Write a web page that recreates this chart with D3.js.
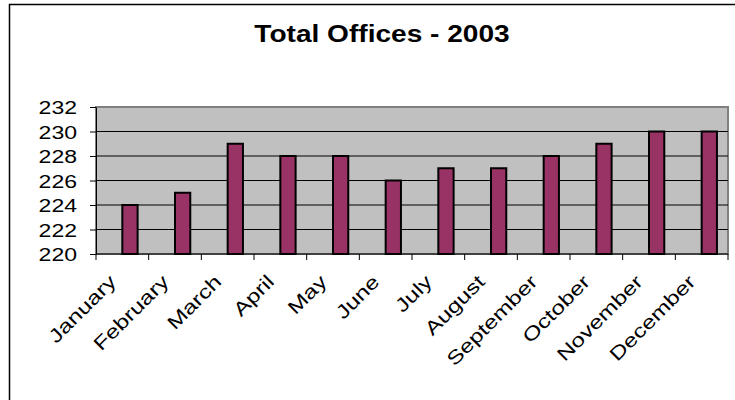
<!DOCTYPE html>
<html>
<head>
<meta charset="utf-8">
<script src="https://cdn.jsdelivr.net/npm/d3@7"></script>
<style>
    body { margin: 0; background: #fff; }
    text { font-family: "Liberation Sans", Arial, sans-serif; fill: #000; }
</style>
</head>
<body>
<div id="chart"></div>
<script>
// data
var months = ["January", "February", "March", "April", "May", "June",
              "July", "August", "September", "October", "November", "December"];
var offices = [224, 225, 229, 228, 228, 226, 227, 227, 228, 229, 230, 230];
var yTicks = [220, 222, 224, 226, 228, 230, 232];

var width = 735, height = 400;
var plot = {left: 96, right: 728, top: 107, bottom: 254};
var stretch = 1.28; // the original text looks wide, so stretch it sideways

var svg = d3.select("#chart").append("svg")
    .attr("width", width)
    .attr("height", height);

// chart frame (runs off the right and bottom edges)
svg.append("rect")
    .attr("x", 9.5).attr("y", 4.5)
    .attr("width", 800).attr("height", 500)
    .attr("fill", "#fff")
    .attr("stroke", "#000")
    .attr("stroke-width", 1.5);

// title
svg.append("text")
    .attr("transform", "translate(382,42) scale(1.17,1)")
    .attr("text-anchor", "middle")
    .attr("font-size", "24px")
    .attr("font-weight", "bold")
    .text("Total Offices - 2003");

var x = d3.scaleBand().domain(months).range([plot.left, plot.right]);
var y = d3.scaleLinear().domain([220, 232]).range([plot.bottom, plot.top]);

// grey plot area
svg.append("rect")
    .attr("x", plot.left).attr("y", plot.top)
    .attr("width", plot.right - plot.left)
    .attr("height", plot.bottom - plot.top)
    .attr("fill", "#c0c0c0")
    .attr("stroke", "#808080")
    .attr("stroke-width", 2);

// gridlines
svg.append("g").selectAll("line")
    .data(yTicks.slice(1, -1))
    .enter().append("line")
    .attr("x1", plot.left).attr("x2", plot.right)
    .attr("y1", function(d) { return y(d); })
    .attr("y2", function(d) { return y(d); })
    .attr("stroke", "#000")
    .attr("stroke-width", 1);

// bars sit just right of the category middle
var barW = x.bandwidth() * 0.29;
svg.append("g").selectAll("rect")
    .data(offices)
    .enter().append("rect")
    .attr("x", function(d, i) { return x(months[i]) + x.bandwidth() / 2; })
    .attr("y", function(d) { return y(d); })
    .attr("width", barW)
    .attr("height", function(d) { return y(220) - y(d); })
    .attr("fill", "#993366")
    .attr("stroke", "#000")
    .attr("stroke-width", 2);

// y axis
var yAxis = svg.append("g")
    .attr("transform", "translate(" + plot.left + ",0)")
    .call(d3.axisLeft(y).tickValues(yTicks).tickSize(6).tickSizeOuter(0));
yAxis.select(".domain").attr("stroke", "#000");
yAxis.selectAll(".tick line").attr("stroke", "#000");
yAxis.selectAll(".tick text")
    .attr("x", null).attr("dy", null)
    .attr("font-size", "18px")
    .attr("font-family", "Liberation Sans, Arial, sans-serif")
    .attr("transform", "translate(-19,6.5) scale(" + stretch + ",1)");

// x axis: line plus ticks at category edges
var edges = months.map(function(m) { return x(m); }).concat([plot.right]);
svg.append("line")
    .attr("x1", plot.left).attr("x2", plot.right)
    .attr("y1", plot.bottom).attr("y2", plot.bottom)
    .attr("stroke", "#000");
svg.append("g").selectAll("line")
    .data(edges)
    .enter().append("line")
    .attr("x1", function(d) { return d; }).attr("x2", function(d) { return d; })
    .attr("y1", plot.bottom).attr("y2", plot.bottom + 6)
    .attr("stroke", "#000");

// rotated month labels
svg.append("g").selectAll("text")
    .data(months)
    .enter().append("text")
    .attr("text-anchor", "end")
    .attr("font-size", "19px")
    .attr("transform", function(d) {
        var cx = x(d) + x.bandwidth() / 2 - 5;
        return "translate(" + cx + ",283) rotate(-45) scale(" + stretch + ",1)";
    })
    .text(function(d) { return d; });
</script>
</body>
</html>
